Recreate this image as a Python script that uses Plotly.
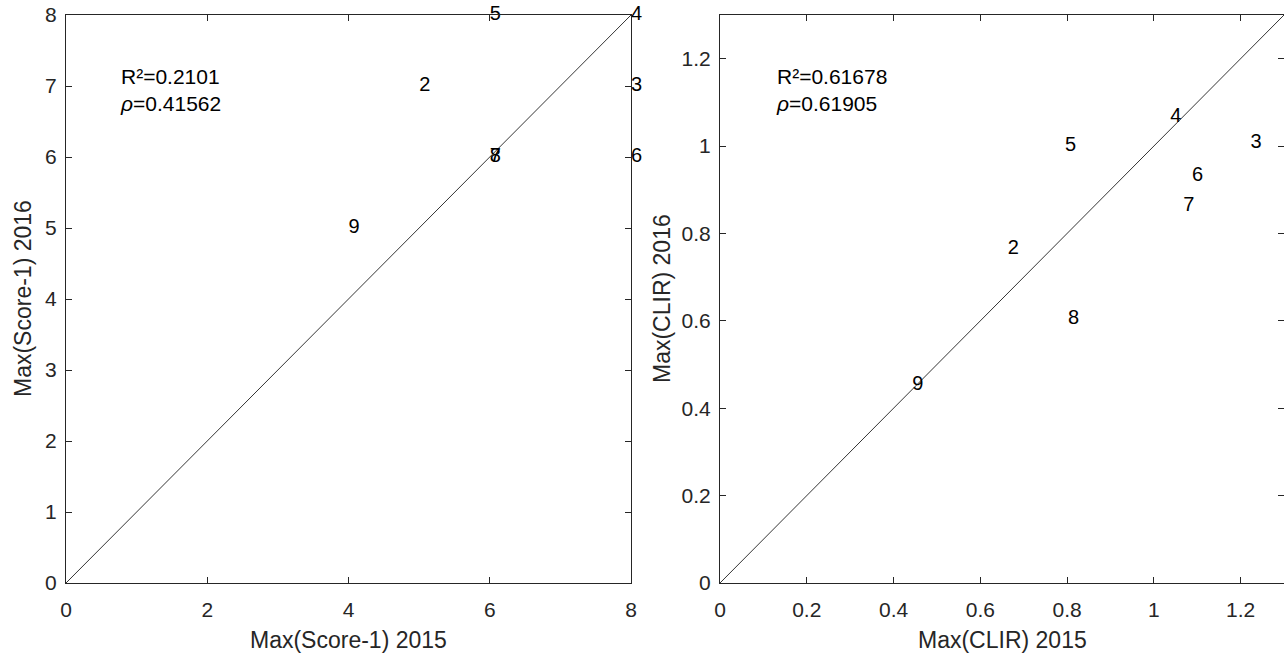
import plotly.graph_objects as go

# Left panel: Max(Score-1)
left_labels = ["2", "3", "4", "5", "6", "7", "8", "9"]
left_x2015 = [5, 8, 8, 6, 8, 6, 6, 4]
left_y2016 = [7, 7, 8, 8, 6, 6, 6, 5]
left_stats = ["R²=0.2101", "<i>ρ</i>=0.41562"]
left_stats_pos = [0.74, 6.94]
left_range = [0, 8]
left_ticks = [0, 2, 4, 6, 8]
left_yticks = [0, 1, 2, 3, 4, 5, 6, 7, 8]

# Right panel: Max(CLIR)
right_labels = ["2", "3", "4", "5", "6", "7", "8", "9"]
right_x2015 = [0.663, 1.223, 1.038, 0.795, 1.088, 1.068, 0.802, 0.443]
right_y2016 = [0.765, 1.008, 1.066, 1.0, 0.932, 0.863, 0.605, 0.454]
right_stats = ["R²=0.61678", "<i>ρ</i>=0.61905"]
right_stats_pos = [0.125, 1.128]
right_range = [0, 1.3]
right_ticks = [0, 0.2, 0.4, 0.6, 0.8, 1, 1.2]
right_ticktext = ["0", "0.2", "0.4", "0.6", "0.8", "1", "1.2"]

W, H = 1284, 658
FONT = "Liberation Sans, Arial, sans-serif"
AX = "#262626"
TICK_SIZE = 21
TITLE_SIZE = 23
LABEL_SIZE = 20
STATS_SIZE = 21

fig = go.Figure()

# diagonals
fig.add_trace(go.Scatter(x=left_range, y=left_range, mode="lines",
                         line=dict(color="black", width=0.8), xaxis="x", yaxis="y",
                         showlegend=False, hoverinfo="skip"))
fig.add_trace(go.Scatter(x=right_range, y=right_range, mode="lines",
                         line=dict(color="black", width=0.8), xaxis="x2", yaxis="y2",
                         showlegend=False, hoverinfo="skip"))

fig.add_trace(go.Scatter(x=left_x2015, y=left_y2016, text=left_labels, mode="text",
                         textposition="middle right", cliponaxis=False,
                         textfont=dict(family=FONT, size=LABEL_SIZE, color="black"),
                         xaxis="x", yaxis="y", showlegend=False))
fig.add_trace(go.Scatter(x=right_x2015, y=right_y2016, text=right_labels, mode="text",
                         textposition="middle right", cliponaxis=False,
                         textfont=dict(family=FONT, size=LABEL_SIZE, color="black"),
                         xaxis="x2", yaxis="y2", showlegend=False))

def px2fx(p):
    return p / W

def py2fy(p):
    return 1 - p / H

axis_common = dict(showgrid=False, zeroline=False, showline=True, linecolor=AX,
                   linewidth=1, mirror="ticks", ticks="inside", ticklen=6,
                   tickcolor=AX, tickfont=dict(family=FONT, size=TICK_SIZE, color=AX),
                   automargin=False)

ydom = [py2fy(583), py2fy(15)]
fig.update_layout(
    width=W, height=H, margin=dict(l=0, r=0, t=0, b=0),
    paper_bgcolor="white", plot_bgcolor="white",
    xaxis=dict(domain=[px2fx(66), px2fx(631)], range=left_range, tickvals=left_ticks,
               anchor="y", ticklabelstandoff=8, **axis_common),
    yaxis=dict(domain=ydom, range=left_range, tickvals=left_yticks, anchor="x",
               ticklabelstandoff=4, **axis_common),
    xaxis2=dict(domain=[px2fx(720), 1.0], range=right_range, tickvals=right_ticks,
                ticktext=right_ticktext, anchor="y2", ticklabelstandoff=8, **axis_common),
    yaxis2=dict(domain=ydom, range=right_range, tickvals=right_ticks,
                ticktext=right_ticktext, anchor="x2", ticklabelstandoff=4, **axis_common),
)

ann = []
ann.append(dict(text="<br>".join(left_stats), x=left_stats_pos[0], y=left_stats_pos[1],
                xref="x", yref="y", xanchor="left", yanchor="middle", align="left",
                showarrow=False, font=dict(family=FONT, size=STATS_SIZE, color="black")))
ann.append(dict(text="<br>".join(right_stats), x=right_stats_pos[0], y=right_stats_pos[1],
                xref="x2", yref="y2", xanchor="left", yanchor="middle", align="left",
                showarrow=False, font=dict(family=FONT, size=STATS_SIZE, color="black")))
# axis titles
ann.append(dict(text="Max(Score-1) 2015", x=px2fx(348.5), y=py2fy(640), xref="paper", yref="paper",
                xanchor="center", yanchor="middle", showarrow=False,
                font=dict(family=FONT, size=TITLE_SIZE, color=AX)))
ann.append(dict(text="Max(CLIR) 2015", x=px2fx(1002), y=py2fy(640), xref="paper", yref="paper",
                xanchor="center", yanchor="middle", showarrow=False,
                font=dict(family=FONT, size=TITLE_SIZE, color=AX)))
ann.append(dict(text="Max(Score-1) 2016", x=px2fx(23), y=py2fy(299), xref="paper", yref="paper",
                xanchor="center", yanchor="middle", showarrow=False, textangle=-90,
                font=dict(family=FONT, size=TITLE_SIZE, color=AX)))
ann.append(dict(text="Max(CLIR) 2016", x=px2fx(662), y=py2fy(299), xref="paper", yref="paper",
                xanchor="center", yanchor="middle", showarrow=False, textangle=-90,
                font=dict(family=FONT, size=TITLE_SIZE, color=AX)))
fig.update_layout(annotations=ann)

fig.write_html("out.html", config={"displayModeBar": False},
               post_script="document.body.style.margin='0';document.body.style.overflow='hidden';")
